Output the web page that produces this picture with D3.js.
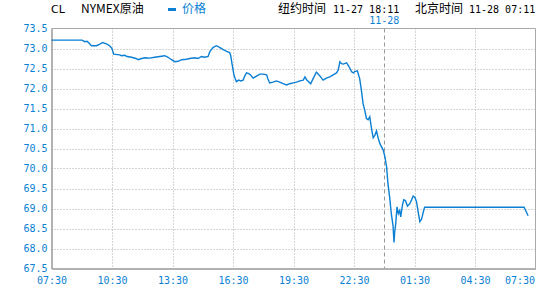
<!DOCTYPE html>
<html>
<head>
<meta charset="utf-8">
<script src="https://cdn.jsdelivr.net/npm/d3@7"></script>
<style>
  body { margin: 0; background: #fff; }
  .mono { font-family: "DejaVu Sans Mono", monospace; font-size: 10px; }
  .cjk { font-family: "Noto Sans CJK SC", sans-serif; font-size: 12px; }
</style>
</head>
<body>
<div class="canvas"></div>
<script>
// price series, Beijing time (before 07:30 means next day)
const times = [
  "07:30", "09:01", "09:09", "09:16", "09:22", "09:29", "09:44", "09:54", "10:02", "10:09",
  "10:15", "10:23", "10:30", "10:35", "10:53", "10:58", "11:08", "11:15", "11:28", "11:41",
  "11:48", "11:58", "12:08", "12:22", "12:37", "12:52", "13:07", "13:17", "13:27", "13:37",
  "13:47", "13:57", "14:12", "14:21", "14:36", "14:46", "14:56", "15:06", "15:16", "15:21",
  "15:31", "15:41", "15:51", "16:01", "16:11", "16:20", "16:23", "16:27", "16:33", "16:40",
  "16:47", "16:53", "17:00", "17:05", "17:10", "17:17", "17:23", "17:30", "17:40", "17:50",
  "18:00", "18:10", "18:14", "18:19", "18:29", "18:39", "18:49", "18:59", "19:09", "19:19",
  "19:29", "19:39", "19:49", "19:59", "20:04", "20:09", "20:21", "20:28", "20:38", "20:48",
  "20:58", "21:08", "21:18", "21:28", "21:38", "21:43", "21:48", "21:53", "21:58", "22:08",
  "22:15", "22:23", "22:28", "22:32", "22:40", "22:47", "22:52", "22:57", "23:02", "23:07",
  "23:12", "23:17", "23:22", "23:27", "23:32", "23:37", "23:42", "23:47", "23:52", "23:57",
  "00:02", "00:07", "00:11", "00:16", "00:21", "00:26", "00:29", "00:31", "00:34", "00:38",
  "00:42", "00:46", "00:49", "00:54", "00:58", "01:03", "01:09", "01:16", "01:21", "01:26",
  "01:31", "01:36", "01:40", "01:46", "01:51", "01:55", "02:00", "06:56", "07:08"
];
const prices = [
  73.21, 73.21, 73.17, 73.18, 73.13, 73.07, 73.07, 73.11, 73.15, 73.13,
  73.11, 73.07, 73.0, 72.86, 72.84, 72.82, 72.83, 72.8, 72.78, 72.75,
  72.72, 72.75, 72.77, 72.76, 72.78, 72.8, 72.82, 72.78, 72.72, 72.67,
  72.68, 72.72, 72.73, 72.75, 72.77, 72.75, 72.8, 72.78, 72.8, 72.92,
  73.03, 73.07, 73.02, 72.97, 72.93, 72.9, 72.83, 72.62, 72.33, 72.17,
  72.21, 72.19, 72.21, 72.31, 72.39, 72.37, 72.33, 72.26, 72.31, 72.36,
  72.36, 72.34, 72.24, 72.14, 72.16, 72.19, 72.16, 72.12, 72.09, 72.12,
  72.14, 72.16, 72.19, 72.21, 72.29, 72.22, 72.12, 72.24, 72.41, 72.32,
  72.21, 72.26, 72.29, 72.34, 72.39, 72.46, 72.67, 72.62, 72.61, 72.64,
  72.55, 72.42, 72.39, 72.42, 72.44, 72.24, 71.96, 71.62, 71.46, 71.25,
  71.22, 71.29, 71.0, 70.77, 70.83, 70.94, 70.76, 70.62, 70.54, 70.46,
  70.29, 70.04, 69.62, 69.29, 68.87, 68.58, 68.15, 68.4, 68.61, 69.04,
  68.87, 68.95, 68.79, 69.08, 69.22, 69.2, 69.06, 69.12, 69.21, 69.31,
  69.28, 69.17, 68.96, 68.67, 68.73, 68.87, 69.03, 69.03, 68.82
];

const yTicks = [67.5, 68.0, 68.5, 69.0, 69.5, 70.0, 70.5, 71.0, 71.5, 72.0, 72.5, 73.0, 73.5];
const xTickLabels = ["07:30", "10:30", "13:30", "16:30", "19:30", "22:30", "01:30", "04:30", "07:30"];

const day1 = "2014-11-27";
const day2 = "2014-11-28";
const parseTime = d3.timeParse("%Y-%m-%d %H:%M");
const toDate = (t, i, all) => {
  // times before 07:30 are on the next day, last label too
  const next = t < "07:30" || (all && i === all.length - 1 && i > 0);
  return parseTime((next ? day2 : day1) + " " + t);
};

const data = times.map((t, i) => ({ date: toDate(t), price: prices[i] }));
const xTicks = xTickLabels.map((t, i, all) => toDate(t, i, all));

const width = 543;
const height = 286;
const plot = { left: 51.5, right: 535.5, top: 28.5, bottom: 268.5 };
const blue = "#0a7fd4";

const svg = d3
  .select(".canvas")
  .append("svg")
  .attr("width", width)
  .attr("height", height);

// scales
const x = d3
  .scaleTime()
  .domain([parseTime(day1 + " 07:30"), parseTime(day2 + " 07:30")])
  .range([plot.left, plot.right]);
const y = d3
  .scaleLinear()
  .domain([67.5, 73.5])
  .range([plot.bottom, plot.top]);

// grid
const grid = svg.append("g");
grid
  .selectAll(".hgrid")
  .data(yTicks.slice(1, -1))
  .enter()
  .append("line")
  .attr("x1", plot.left)
  .attr("x2", plot.right)
  .attr("y1", (d) => Math.round(y(d)) + 0.5)
  .attr("y2", (d) => Math.round(y(d)) + 0.5)
  .attr("stroke", "#aaa")
  .attr("stroke-dasharray", "1,2");
grid
  .selectAll(".vgrid")
  .data(xTicks.slice(1, -1))
  .enter()
  .append("line")
  .attr("x1", (d) => Math.round(x(d)) + 0.5)
  .attr("x2", (d) => Math.round(x(d)) + 0.5)
  .attr("y1", plot.top)
  .attr("y2", plot.bottom)
  .attr("stroke", "#aaa")
  .attr("stroke-dasharray", "1,2");

// day boundary
const midnight = parseTime(day2 + " 00:00");
svg
  .append("line")
  .attr("x1", Math.round(x(midnight)) + 0.5)
  .attr("x2", Math.round(x(midnight)) + 0.5)
  .attr("y1", plot.top)
  .attr("y2", plot.bottom)
  .attr("stroke", "#999")
  .attr("stroke-dasharray", "4,3");
svg
  .append("text")
  .attr("class", "mono")
  .attr("x", x(midnight))
  .attr("y", 24)
  .attr("text-anchor", "middle")
  .attr("fill", blue)
  .text("11-28");

// frame
svg
  .append("path")
  .attr("d", `M${plot.left},${plot.top}H${plot.right}V${plot.bottom}`)
  .attr("fill", "none")
  .attr("stroke", "#aaa");

// axes
const yAxis = d3.axisLeft(y).tickValues(yTicks).tickSize(0).tickPadding(4).tickFormat(d3.format(".1f"));
const xAxis = d3.axisBottom(x).tickValues(xTicks).tickSize(0).tickPadding(8).tickFormat((d, i) => xTickLabels[i]);

const yAxisGroup = svg.append("g").attr("transform", `translate(${plot.left}, 0)`).call(yAxis);
const xAxisGroup = svg.append("g").attr("transform", `translate(0, ${plot.bottom})`).call(xAxis);

[yAxisGroup, xAxisGroup].forEach((g) => {
  g.select(".domain").attr("stroke", "#999").attr("stroke-width", 1.5);
  g.selectAll("text").attr("class", "mono").attr("fill", blue).attr("font-family", null).attr("font-size", null);
});
// last label kept inside the page
xAxisGroup.selectAll(".tick:last-of-type text").attr("text-anchor", "end").attr("dx", -1);

// price line
const line = d3
  .line()
  .x((d) => x(d.date))
  .y((d) => y(d.price));

svg
  .append("path")
  .datum(data)
  .attr("fill", "none")
  .attr("stroke", blue)
  .attr("stroke-width", 1.4)
  .attr("d", line);

// header
const header = svg.append("g");
header.append("text").attr("x", 51).attr("y", 13).attr("font-family", "DejaVu Sans").attr("font-size", 11).text("CL");
header.append("text").attr("class", "cjk").attr("x", 81).attr("y", 13).text("NYMEX原油");
header
  .append("line")
  .attr("x1", 168)
  .attr("x2", 176)
  .attr("y1", 9.5)
  .attr("y2", 9.5)
  .attr("stroke", blue)
  .attr("stroke-width", 3);
header.append("text").attr("class", "cjk").attr("x", 182).attr("y", 13).attr("fill", blue).text("价格");
header.append("text").attr("class", "cjk").attr("x", 278).attr("y", 13).text("纽约时间");
header.append("text").attr("class", "mono").attr("x", 333).attr("y", 12.5).text("11-27 18:11");
header.append("text").attr("class", "cjk").attr("x", 415).attr("y", 13).text("北京时间");
header.append("text").attr("class", "mono").attr("x", 469).attr("y", 12.5).text("11-28 07:11");
</script>
</body>
</html>
